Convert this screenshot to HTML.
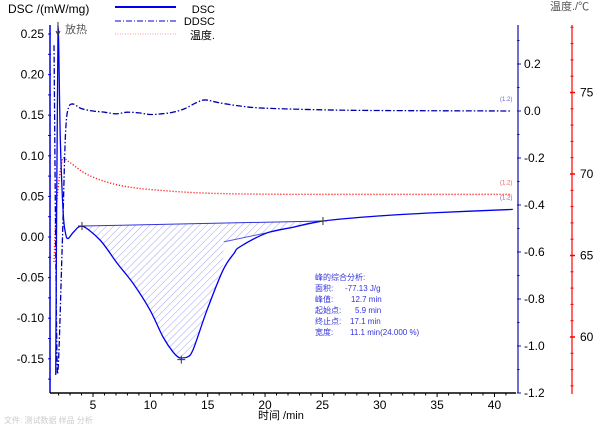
<!DOCTYPE html>
<html><head><meta charset="utf-8"><style>
html,body{margin:0;padding:0;background:#fff;}
svg{display:block;font-family:"Liberation Sans","Noto Sans CJK SC",sans-serif;}
</style></head><body>
<svg id="chart" width="608" height="424" viewBox="0 0 608 424" xmlns="http://www.w3.org/2000/svg">
<defs>
<pattern id="hatch" patternUnits="userSpaceOnUse" width="5" height="5" patternTransform="rotate(45)">
<line x1="0" y1="0" x2="0" y2="5" stroke="#8c8cf0" stroke-width="0.8"/>
</pattern>
</defs>
<g id="axes"></g>
<g id="marks"></g>
<text x="8" y="13" font-size="12" fill="#000">DSC /(mW/mg)</text>
<text x="258" y="419" font-size="11" fill="#000">时间 /min</text>
<text x="550" y="10" font-size="11" fill="#555">温度./℃</text>
<text x="65" y="33" font-size="11" fill="#555">放热</text>
<g>
<line x1="115" y1="7" x2="176" y2="7" stroke="#0000ee" stroke-width="2"/>
<text x="215" y="13" font-size="11" text-anchor="end">DSC</text>
<line x1="115" y1="21" x2="176" y2="21" stroke="#0000cc" stroke-width="1" stroke-dasharray="6,2,1,2"/>
<text x="215" y="25" font-size="11" text-anchor="end">DDSC</text>
<line x1="115" y1="34" x2="176" y2="34" stroke="#f4b0b0" stroke-width="1.3" stroke-dasharray="1,1.5"/>
<text x="215" y="39" font-size="11" text-anchor="end">温度.</text>
</g>
<g font-size="8" fill="#3333dd">
<text x="315" y="280">峰的综合分析:</text>
<text x="315" y="291">面积:</text><text x="345" y="291">-77.13 J/g</text>
<text x="315" y="302">峰值:</text><text x="351" y="302">12.7 min</text>
<text x="315" y="313">起始点:</text><text x="355" y="313">5.9 min</text>
<text x="315" y="324">终止点:</text><text x="350" y="324">17.1 min</text>
<text x="315" y="335">宽度:</text><text x="350" y="335">11.1 min(24.000 %)</text>
</g>
<text x="4" y="423" font-size="8" fill="#ccc">文件: 测试数据 样品 分析</text>
</svg>
<script>
const xTicks=[5,10,15,20,25,30,35,40];
const yTicks=[0.25,0.20,0.15,0.10,0.05,0.00,-0.05,-0.10,-0.15];
const yTickLabels=["0.25","0.20","0.15","0.10","0.05","0.00","-0.05","-0.10","-0.15"];
const y2Ticks=[0.2,0.0,-0.2,-0.4,-0.6,-0.8,-1.0,-1.2];
const y2TickLabels=["0.2","0.0","-0.2","-0.4","-0.6","-0.8","-1.0","-1.2"];
const tTicks=[75,70,65,60];
const dscT=[1.75,1.95,2.15,2.4,2.6,2.82,3.3,4.04,5.61,7.09,8.49,9.97,11.1,12.0,12.58,13.2,13.72,14.94,16.33,17.3,17.82,20.17,22.44,25.05,30,35,41.6];
const dscV=[-0.17,0.26,0.12,0.03,0.005,-0.002,0.006,0.0135,-0.0037,-0.032,-0.057,-0.090,-0.123,-0.142,-0.149,-0.148,-0.139,-0.090,-0.041,-0.02,-0.012,0.005,0.012,0.0197,0.026,0.030,0.034];
const ddscT=[1.6,1.9,2.3,2.6,2.9,3.26,4,5,6,7,8,9,10,11,12,13,14,14.8,16,18,20,25,30,41.5];
const ddscV=[0.28,-1.12,-0.6,-0.1,0.02,0.03,0.01,0.0,-0.005,-0.012,-0.005,-0.008,-0.015,-0.012,-0.005,0.01,0.035,0.047,0.035,0.02,0.012,0.005,0.002,0.0];
const tempT=[1.6,1.86,2.38,2.99,4.7,7.35,10.8,16.1,25,41.5];
const tempV=[64.6,68.4,71.0,70.7,69.9,69.3,69.0,68.8,68.75,68.75];
const baseT=[4.04,25.05];
const baseV=[0.0135,0.0197];
const tangentT=[16.4,25.05];
const tangentV=[-0.006,0.0197];
const peakT=12.7, peakV=-0.151;

const NS="http://www.w3.org/2000/svg";
const X=t=>93+(t-5)*11.47;
const Y=v=>237-v*812;
const Y2=v=>111-v*235;
const YT=v=>174-(v-70)*16.3;
function mk(tag,attrs,parent){const e=document.createElementNS(NS,tag);for(const k in attrs)e.setAttribute(k,attrs[k]);parent.appendChild(e);return e;}
const axes=document.getElementById('axes'),marks=document.getElementById('marks');

let la=mk('line',{x1:50,y1:25,x2:50,y2:393,stroke:'#0000ee','stroke-width':1.5},axes);

for(let v=-0.175;v<=0.26;v+=0.025){mk('line',{x1:48,y1:Y(v),x2:51,y2:Y(v),stroke:'#0000ee'},axes);}
yTicks.forEach((v,i)=>{const t=mk('text',{x:44,y:Y(v)+4,'font-size':12,'text-anchor':'end'},axes);t.textContent=yTickLabels[i];
});
let ba=mk('line',{x1:50,y1:393,x2:516,y2:393,stroke:'#000','stroke-width':1.5},axes);

for(let t=2;t<=41;t++){mk('line',{x1:X(t),y1:393,x2:X(t),y2:(t%5==0?397:395.5),stroke:'#000'},axes);}
xTicks.forEach(v=>{const t=mk('text',{x:X(v),y:409,'font-size':12,'text-anchor':'middle'},axes);t.textContent=v;
});
let ra=mk('line',{x1:518,y1:25,x2:518,y2:393,stroke:'#1010aa','stroke-width':1.2},axes);

for(let v=-1.2;v<=0.35;v+=0.1){mk('line',{x1:517,y1:Y2(v),x2:519.5,y2:Y2(v),stroke:'#1010aa'},axes);}
y2Ticks.forEach((v,i)=>{mk('line',{x1:517,y1:Y2(v),x2:521,y2:Y2(v),stroke:'#1010aa'},axes);
const t=mk('text',{x:524,y:Y2(v)+4,'font-size':12},axes);t.textContent=y2TickLabels[i];
});
let ta=mk('line',{x1:572,y1:25,x2:572,y2:394,stroke:'#ff0000','stroke-width':1.2},axes);

for(let v=57;v<=79;v++){mk('line',{x1:570.5,y1:YT(v),x2:573.5,y2:YT(v),stroke:'#ff0000'},axes);}
tTicks.forEach(v=>{mk('line',{x1:570,y1:YT(v),x2:575,y2:YT(v),stroke:'#ff0000','stroke-width':1.5},axes);
const t=mk('text',{x:580,y:YT(v)+4,'font-size':12},axes);t.textContent=v;
});

function cl(v,a,b){const lo=Math.min(a,b),hi=Math.max(a,b);return Math.max(lo,Math.min(hi,v));}
function smooth(ts,vs,f){const p=ts.map((t,i)=>[X(t),f(vs[i])]);let d='M'+p[0][0]+','+p[0][1];
for(let i=0;i<p.length-1;i++){const p0=p[Math.max(0,i-1)],p1=p[i],p2=p[i+1],p3=p[Math.min(p.length-1,i+2)];
const c1y=cl(p1[1]+(p2[1]-p0[1])/6,p1[1],p2[1]),c2y=cl(p2[1]-(p3[1]-p1[1])/6,p1[1],p2[1]);
const c1x=cl(p1[0]+(p2[0]-p0[0])/6,p1[0],p2[0]),c2x=cl(p2[0]-(p3[0]-p1[0])/6,p1[0],p2[0]);
d+=' C'+c1x+','+c1y+' '+c2x+','+c2y+' '+p2[0]+','+p2[1];}return d;}

const hi=[];dscT.forEach((t,i)=>{if(t>=baseT[0]&&t<=tangentT[0])hi.push(X(t).toFixed(1)+','+Y(dscV[i]).toFixed(1));});
hi.push(X(tangentT[0]).toFixed(1)+','+Y(tangentV[0]).toFixed(1));
hi.push(X(tangentT[1]).toFixed(1)+','+Y(tangentV[1]).toFixed(1));
let hp=mk('polygon',{points:hi.join(' '),fill:'url(#hatch)',stroke:'none'},marks);

let bl=mk('line',{x1:X(baseT[0]),y1:Y(baseV[0]),x2:X(baseT[1]),y2:Y(baseV[1]),stroke:'#3333dd','stroke-width':1},marks);

let tl=mk('line',{x1:X(tangentT[0]),y1:Y(tangentV[0]),x2:X(tangentT[1]),y2:Y(tangentV[1]),stroke:'#5555e0','stroke-width':1},marks);


let tp=mk('path',{d:smooth(tempT,tempV,YT),fill:'none',stroke:'#ff2020','stroke-width':1.4,'stroke-dasharray':'1.2,1.8'},marks);

let dd=mk('path',{d:smooth(ddscT,ddscV,Y2),fill:'none',stroke:'#0000aa','stroke-width':1.3,'stroke-dasharray':'6,2,1.5,2'},marks);

let ds=mk('path',{d:smooth(dscT,dscV,Y),fill:'none',stroke:'#0000ee','stroke-width':1.3},marks);


[[peakT,peakV],[baseT[0],baseV[0]],[baseT[1],baseV[1]]].forEach(p=>{
let m=mk('path',{d:`M${X(p[0])-4},${Y(p[1])} h8 M${X(p[0])},${Y(p[1])-4} v8`,stroke:'#333','stroke-width':1},marks);
});

[[Y2(0),'#6666dd'],[YT(68.75),'#ee5555'],[Y(dscV[dscV.length-1]),'#6666dd']].forEach(a=>{
let t=mk('text',{x:500,y:a[0]-10,'font-size':6,fill:a[1]},marks);t.textContent='(1.2)';
});
let ar=mk('path',{d:'M58,22 v12 M56,31 l2,4 l2,-4',stroke:'#333',fill:'none','stroke-width':1},marks);

</script>
</body></html>
